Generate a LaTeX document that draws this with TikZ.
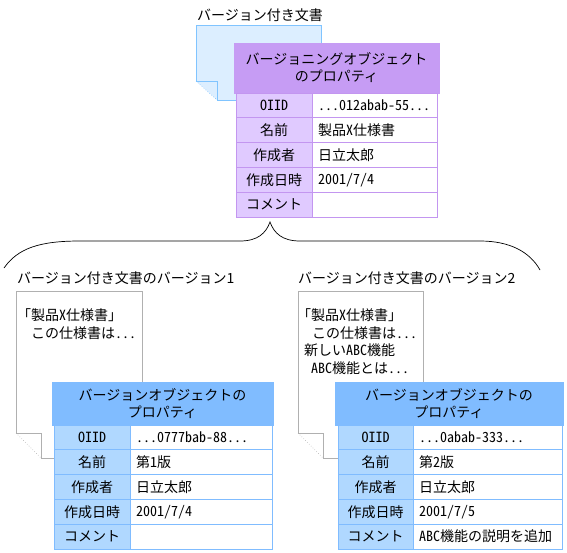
\documentclass[tikz,border=0pt]{standalone}
\usepackage{fontspec}
\setmainfont{Noto Sans CJK JP}
\newfontfamily\hwfont[RawFeature=+hwid]{Noto Sans CJK JP}
\usetikzlibrary{positioning}
\definecolor{purphead}{HTML}{C69CF4}
\definecolor{purpkey}{HTML}{E0CAFF}
\definecolor{purpline}{HTML}{C396F0}
\definecolor{bluehead}{HTML}{80BCFF}
\definecolor{bluekey}{HTML}{B0D8FF}
\definecolor{blueline}{HTML}{80BCFF}
\definecolor{docblue}{HTML}{DCEEFF}
\definecolor{docblueline}{HTML}{80C4FF}
\definecolor{docgray}{HTML}{B0B0B0}

\tikzset{
  txt/.style={font=\fontsize{14}{17}\selectfont, inner sep=0pt, anchor=west},
  doctxt/.style={font=\hwfont\fontsize{14}{17}\selectfont, inner sep=0pt, anchor=west},
  headbox/.style={fill=#1head, draw=#1head, line width=1pt, outer sep=0pt,
    anchor=north west, align=center, inner sep=0pt,
    font=\fontsize{14}{17}\selectfont},
  keycell/.style={fill=#1key, draw=#1line, line width=1pt, outer sep=0pt,
    anchor=north west, minimum height=24.8pt, inner sep=0pt,
    font=\fontsize{14}{17}\selectfont},
  valcell/.style={fill=white, draw=#1line, line width=1pt, outer sep=0pt,
    minimum height=24.8pt, inner xsep=6pt, inner ysep=0pt, align=left,
    font=\hwfont\fontsize{14}{17}\selectfont},
  docpage/.style={fill=white, draw=docgray, line width=1pt},
  foldline/.style={draw=#1, line width=0.6pt, dotted}
}

\begin{document}
\begin{tikzpicture}[x=1pt, y=-1pt]
\useasboundingbox (0,0) rectangle (567,552);

% versioned document
\node[txt] (toplabel) at (197,15) {バージョン付き文書};
\fill[docblue] (196,25) -- (321,25) -- (321,100) -- (217,100) -- (196,81) -- cycle;
\draw[docblueline, line width=1pt] (196,81) -- (196,25) -- (321,25) -- (321,100)
  -- (217,100) -- (217,81) -- cycle;
\draw[foldline=docblueline] (196,81) -- (217,100);

\node[headbox=purp, minimum width=205pt, minimum height=50pt] (tophead) at (234,43)
  {バージョニングオブジェクト\\のプロパティ};
\foreach \k/\v [count=\i] in {{\hwfont OIID}/{...012abab-55...}, 名前/{製品X仕様書},
    作成者/{日立太郎}, 作成日時/{2001/7/4}, コメント/{}} {
  \node[keycell=purp, minimum width=76pt] (tk\i) at (236,{93+24.8*(\i-1)}) {\k};
  \node[valcell=purp, text width=113pt, right=0pt of tk\i] (tv\i) {\v};
}

% brace
\draw[line width=0.7pt] (4,268) .. controls (18,248) and (40,241) .. (80,241)
  -- (240,241) .. controls (258,241) and (266,233) .. (270,222)
  .. controls (274,233) and (282,241) .. (300,241)
  -- (480,241) .. controls (510,241) and (530,252) .. (540,270);

% version 1
\node[txt] (labelA) at (17,278) {バージョン付き文書のバージョン1};
\draw[docpage] (16,433) -- (16,291) -- (142,291) -- (142,458) -- (41,458)
  -- (41,433) -- cycle;
\draw[foldline=docgray] (16,433) -- (41,458);
\node[doctxt] (docA1) at (17,315) {「製品X仕様書」};
\node[doctxt] (docA2) at (31,333) {この仕様書は...};

\node[headbox=blue, minimum width=221pt, minimum height=43pt] (headA) at (52,382)
  {バージョンオブジェクトの\\プロパティ};
\foreach \k/\v [count=\i] in {{\hwfont OIID}/{...0777bab-88...}, 名前/{第1版},
    作成者/{日立太郎}, 作成日時/{2001/7/4}, コメント/{}} {
  \node[keycell=blue, minimum width=76pt] (ak\i) at (54,{425+24.8*(\i-1)}) {\k};
  \node[valcell=blue, text width=130pt, right=0pt of ak\i] (av\i) {\v};
}

% version 2
\node[txt] (labelB) at (298,278) {バージョン付き文書のバージョン2};
\draw[docpage] (298,433) -- (298,291) -- (423,291) -- (423,458) -- (323,458)
  -- (323,433) -- cycle;
\draw[foldline=docgray] (298,433) -- (323,458);
\node[doctxt] (docB1) at (297,315) {「製品X仕様書」};
\node[doctxt] (docB2) at (312,333) {この仕様書は...};
\node[doctxt] (docB3) at (304,350) {新しいABC機能};
\node[doctxt] (docB4) at (311,368) {ABC機能とは...};

\node[headbox=blue, minimum width=228pt, minimum height=43pt] (headB) at (335,382)
  {バージョンオブジェクトの\\プロパティ};
\foreach \k/\v [count=\i] in {{\hwfont OIID}/{...0abab-333...}, 名前/{第2版},
    作成者/{日立太郎}, 作成日時/{2001/7/5}, コメント/{ABC機能の説明を追加}} {
  \node[keycell=blue, minimum width=75pt] (bk\i) at (338,{425+24.8*(\i-1)}) {\k};
  \node[valcell=blue, text width=137pt, right=0pt of bk\i] (bv\i) {\v};
}
\end{tikzpicture}
\end{document}
